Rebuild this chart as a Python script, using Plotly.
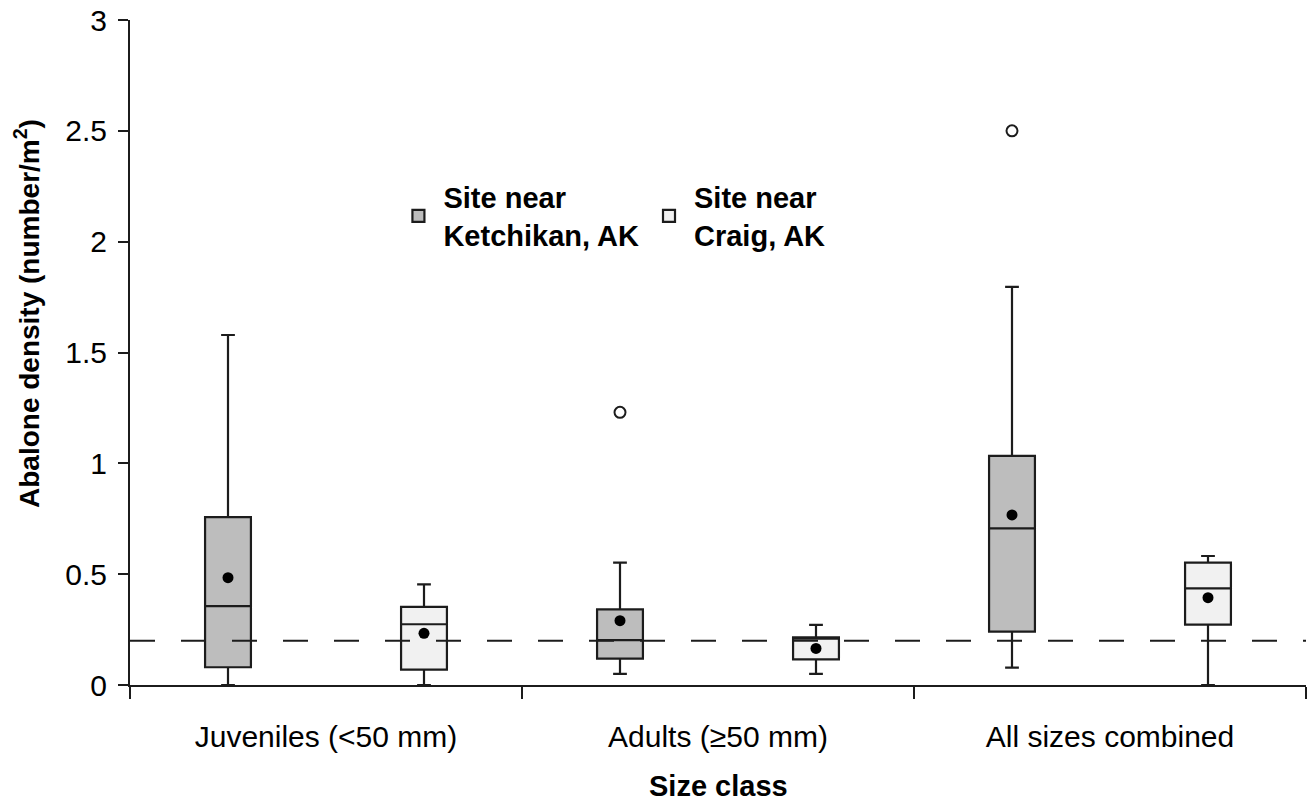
import plotly.graph_objects as go

# ---------------- data ----------------
categories = ["Juveniles (<50 mm)", "Adults (≥50 mm)", "All sizes combined"]

ket_q1 = [0.080, 0.119, 0.241]
ket_median = [0.356, 0.202, 0.707]
ket_q3 = [0.757, 0.341, 1.034]
ket_lower = [0.000, 0.050, 0.078]
ket_upper = [1.579, 0.552, 1.796]
ket_mean = [0.484, 0.290, 0.767]
ket_outlier_cat = [1, 2]          # category index of each outlier
ket_outlier_val = [1.230, 2.500]

cra_q1 = [0.069, 0.116, 0.272]
cra_median = [0.274, 0.209, 0.436]
cra_q3 = [0.352, 0.215, 0.552]
cra_lower = [0.000, 0.050, 0.000]
cra_upper = [0.454, 0.271, 0.582]
cra_mean = [0.233, 0.165, 0.394]

reference_density = 0.2

y_ticks = [0, 0.5, 1, 1.5, 2, 2.5, 3]
y_ticktext = ["0", "0.5", "1", "1.5", "2", "2.5", "3"]

# ---------------- styling ----------------
FONT = "Arial, Liberation Sans, sans-serif"
INK = "#1c1c1c"
cat_pos = [i + 1 for i in range(len(categories))]
OFFSET = 0.25
BOX_W = 0.117

ket_x = [p - OFFSET for p in cat_pos]
cra_x = [p + OFFSET for p in cat_pos]

fig = go.Figure()

fig.add_trace(go.Box(
    name="Site near<br>Ketchikan, AK",
    x=ket_x, q1=ket_q1, median=ket_median, q3=ket_q3,
    lowerfence=ket_lower, upperfence=ket_upper,
    width=BOX_W, whiskerwidth=0.3,
    fillcolor="#bdbdbd", line=dict(color=INK, width=2.2),
    boxpoints=False, showlegend=True,
))
fig.add_trace(go.Box(
    name="Site near<br>Craig, AK",
    x=cra_x, q1=cra_q1, median=cra_median, q3=cra_q3,
    lowerfence=cra_lower, upperfence=cra_upper,
    width=BOX_W, whiskerwidth=0.3,
    fillcolor="#f1f1f1", line=dict(color=INK, width=2.2),
    boxpoints=False, showlegend=True,
))

# means
fig.add_trace(go.Scatter(
    x=ket_x + cra_x, y=ket_mean + cra_mean, mode="markers",
    marker=dict(color="black", size=11), showlegend=False, hoverinfo="skip",
))
# outliers
fig.add_trace(go.Scatter(
    x=[ket_x[i] for i in ket_outlier_cat], y=ket_outlier_val, mode="markers",
    marker=dict(color="white", size=11, line=dict(color=INK, width=2)),
    showlegend=False, hoverinfo="skip",
))

# reference dashed line
fig.add_shape(type="line", xref="x", yref="y",
              x0=0.5, x1=3.5, y0=reference_density, y1=reference_density,
              line=dict(color=INK, width=2, dash="25px,26px"), layer="above")

fig.update_layout(
    width=1310, height=803,
    margin=dict(l=130, r=4, t=20, b=118, autoexpand=False),
    paper_bgcolor="white", plot_bgcolor="white",
    boxmode="overlay",
    font=dict(family=FONT, color=INK),
    legend=dict(
        orientation="h", x=0.224, xanchor="left", y=0.705, yanchor="middle",
        itemwidth=40,
        font=dict(family=FONT, size=29, color="black", weight="bold"),
        bgcolor="rgba(0,0,0,0)", itemclick=False, traceorder="normal",
    ),
    xaxis=dict(
        range=[0.5, 3.5], showgrid=False, zeroline=False, automargin=False,
        showline=True, linecolor=INK, linewidth=2,
        tickmode="array", tickvals=cat_pos, ticktext=categories,
        ticks="", ticklabelstandoff=24,
        tickfont=dict(family=FONT, size=30, color="black"),
        minor=dict(tickmode="array", tickvals=[0.5, 1.5, 2.5, 3.5],
                   ticks="outside", ticklen=12, tickwidth=2, tickcolor=INK,
                   showgrid=False),
    ),
    yaxis=dict(
        range=[0, 3], showgrid=False, zeroline=False, automargin=False,
        showline=True, linecolor=INK, linewidth=2,
        tickmode="array", tickvals=y_ticks, ticktext=y_ticktext,
        ticks="outside", ticklen=10, tickwidth=2, tickcolor=INK,
        ticklabelstandoff=5,
        tickfont=dict(family=FONT, size=30, color="black"),
    ),
    annotations=[
        dict(text="Abalone density (number/m<sup>2</sup>)", textangle=-90,
             xref="paper", yref="paper", x=(27 - 130) / 1176, y=(685 - 314) / 665,
             xanchor="center", yanchor="middle", showarrow=False,
             font=dict(family=FONT, size=28, color="black", weight="bold")),
        dict(text="Size class", xref="paper", yref="paper",
             x=0.5, y=(685 - 786) / 665, xanchor="center", yanchor="middle",
             showarrow=False,
             font=dict(family=FONT, size=29, color="black", weight="bold")),
    ],
)

fig.write_html(
    "out.html",
    config={"displayModeBar": False},
    post_script="document.body.style.margin='0';document.body.style.overflow='hidden';",
)
